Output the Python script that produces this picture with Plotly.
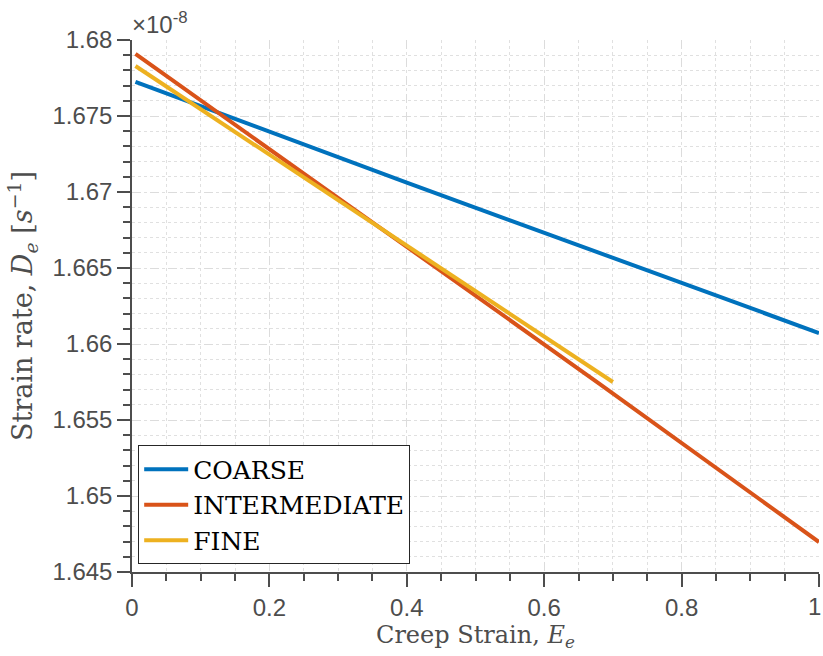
import plotly.graph_objects as go

# Values in units of 1e-8 s^-1
coarse_x = [0.005, 0.4, 1.0]
coarse_y = [1.67724, 1.67062, 1.66072]
inter_x = [0.005, 0.4, 0.68, 1.0]
inter_y = [1.67908, 1.66640, 1.65740, 1.64697]
fine_x = [0.005, 0.4, 0.7]
fine_y = [1.67829, 1.66650, 1.65750]

names = ["COARSE", "INTERMEDIATE", "FINE"]
colors = ["#0072BD", "#D95319", "#EDB120"]

y_ticks = [1.645, 1.65, 1.655, 1.66, 1.665, 1.67, 1.675, 1.68]
y_ticktext = ["1.645", "1.65", "1.655", "1.66", "1.665", "1.67", "1.675", "1.68"]
x_ticks = [0, 0.2, 0.4, 0.6, 0.8, 1]
x_ticktext = ["0", "0.2", "0.4", "0.6", "0.8", "1"]

fig = go.Figure()
for xs, ys, n, c in zip([coarse_x, inter_x, fine_x], [coarse_y, inter_y, fine_y], names, colors):
    fig.add_trace(go.Scatter(x=xs, y=ys, mode="lines", name=n,
                             line=dict(color=c, width=4)))

tick_font = dict(family="Liberation Sans, Arial, sans-serif", size=24, color="#4d4d4d")
serif = "DejaVu Serif, Liberation Serif, serif"
axcol = "#4d4d4d"

# last x tick label is drawn right-aligned at the figure edge so it stays inside
x_axis_text = x_ticktext[:-1] + [""]

fig.update_layout(
    width=823, height=656,
    margin=dict(l=132, r=4, t=40, b=84),
    plot_bgcolor="white", paper_bgcolor="white",
    showlegend=True,
    legend=dict(x=0.009, y=0.238, xanchor="left", yanchor="top",
                bgcolor="white", bordercolor="#262626", borderwidth=1,
                font=dict(family=serif, size=25, color="black"),
                tracegroupgap=0, itemwidth=44),
    xaxis=dict(range=[0, 1], tickvals=x_ticks, ticktext=x_axis_text,
               tickfont=tick_font, showline=True, linecolor=axcol, linewidth=1.5,
               ticks="outside", ticklen=13, tickwidth=1.5, tickcolor=axcol,
               automargin=False,
               showgrid=True, gridcolor="#dcdcdc", griddash="dash", gridwidth=1.2,
               zeroline=False, mirror=False,
               minor=dict(dtick=0.05, ticks="outside", ticklen=7, tickwidth=1.5,
                          tickcolor=axcol, showgrid=True, gridcolor="#e0e0e0",
                          griddash="dot", gridwidth=1.2),
               title=dict(text="Creep Strain, <i>E</i><sub><i>e</i></sub>",
                          font=dict(family=serif, size=24, color="#4d4d4d"), standoff=2)),
    yaxis=dict(range=[1.645, 1.68], tickvals=y_ticks, ticktext=y_ticktext,
               tickfont=tick_font, showline=True, linecolor=axcol, linewidth=1.5,
               ticks="outside", ticklen=13, tickwidth=1.5, tickcolor=axcol,
               ticklabeloverflow="allow", automargin=False,
               showgrid=True, gridcolor="#dcdcdc", griddash="dash", gridwidth=1.2,
               zeroline=False, mirror=False,
               minor=dict(dtick=0.001, ticks="outside", ticklen=7, tickwidth=1.5,
                          tickcolor=axcol, showgrid=True, gridcolor="#e0e0e0",
                          griddash="dot", gridwidth=1.2),
               title=dict(text="Strain rate, <i>D</i><sub><i>e</i></sub> [<i>s</i><sup>−1</sup>]",
                          font=dict(family=serif, size=27, color="#4d4d4d"), standoff=12)),
)

fig.add_annotation(xref="x", yref="paper", x=x_ticks[-1], y=0, xanchor="right", yanchor="top",
                   xshift=3, yshift=-20, showarrow=False, borderpad=0,
                   text=x_ticktext[-1], font=tick_font)

fig.add_annotation(xref="paper", yref="paper", x=0, y=1, xanchor="left", yanchor="bottom",
                   xshift=-2, yshift=0, showarrow=False,
                   text="×10<sup>-8</sup>",
                   font=dict(family="Liberation Sans, Arial, sans-serif", size=24, color="#4d4d4d"))

fig.write_html("out.html")
